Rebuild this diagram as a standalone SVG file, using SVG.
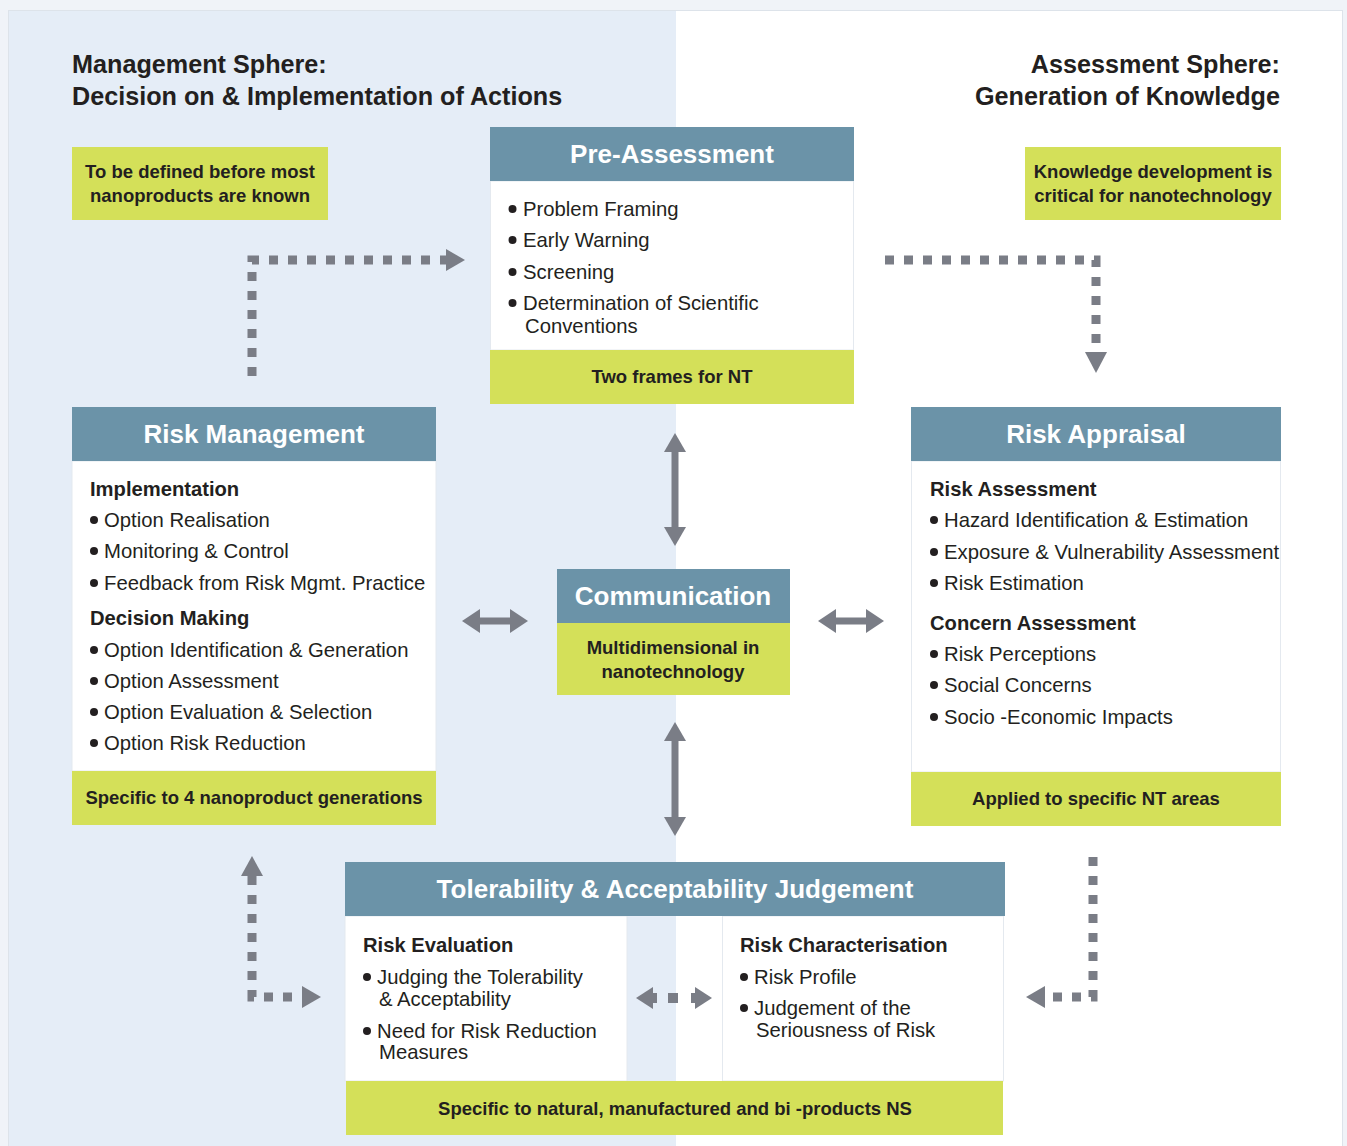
<svg xmlns="http://www.w3.org/2000/svg" width="1347" height="1146" viewBox="0 0 1347 1146">
<defs>
<style>
.hd{fill:#6b93a8}
.yl{fill:#d4e059}
.bd{fill:#ffffff;stroke:#e4e9ef;stroke-width:1}
.ht{font-family:"Liberation Sans",Arial,sans-serif;font-weight:bold;font-size:26px;fill:#ffffff;text-anchor:middle}
.yt{font-family:"Liberation Sans",Arial,sans-serif;font-weight:bold;font-size:18.5px;fill:#231f20;text-anchor:middle}
.tt{font-family:"Liberation Sans",Arial,sans-serif;font-weight:bold;font-size:25.2px;fill:#231f20}
.sub{font-family:"Liberation Sans",Arial,sans-serif;font-weight:bold;font-size:20.2px;fill:#231f20}
.it{font-family:"Liberation Sans",Arial,sans-serif;font-size:20.3px;fill:#231f20}
.dot{fill:#231f20}
.dl{fill:none;stroke:#7a7d86;stroke-width:9;stroke-dasharray:9 10}
.ar{fill:#7a7d86}
.sh{stroke:#7a7d86;stroke-width:7;fill:none}
</style>
</defs>
<rect x="0" y="0" width="1347" height="1146" fill="#f0f3f8"/>
<rect x="8.5" y="10.5" width="1334" height="1140" fill="#ffffff" stroke="#dde3ea"/>
<rect x="9" y="11" width="667" height="1135" fill="#e5edf7"/>

<g id="titles">
<text class="tt" x="72" y="73">Management Sphere:</text>
<text class="tt" x="72" y="105">Decision on &amp; Implementation of Actions</text>
<text class="tt" x="1280" y="73" text-anchor="end">Assessment Sphere:</text>
<text class="tt" x="1280" y="105" text-anchor="end">Generation of Knowledge</text>
</g>

<g id="note-left">
<rect class="yl" x="72" y="147" width="256" height="73"/>
<text class="yt" x="200" y="178">To be defined before most</text>
<text class="yt" x="200" y="202">nanoproducts are known</text>
</g>
<g id="note-right">
<rect class="yl" x="1025" y="147" width="256" height="73"/>
<text class="yt" x="1153" y="178">Knowledge development is</text>
<text class="yt" x="1153" y="202">critical for nanotechnology</text>
</g>

<g id="pre-assessment">
<rect class="bd" x="490.5" y="181" width="363" height="169"/>
<rect class="hd" x="490" y="127" width="364" height="54"/>
<text class="ht" x="672" y="163">Pre-Assessment</text>
<g class="it">
<circle class="dot" cx="512.5" cy="209" r="4"/><text x="523" y="216">Problem Framing</text>
<circle class="dot" cx="512.5" cy="240" r="4"/><text x="523" y="247">Early Warning</text>
<circle class="dot" cx="512.5" cy="272" r="4"/><text x="523" y="279">Screening</text>
<circle class="dot" cx="512.5" cy="303" r="4"/><text x="523" y="310">Determination of Scientific</text>
<text x="525" y="333">Conventions</text>
</g>
<rect class="yl" x="490" y="350" width="364" height="54"/>
<text class="yt" x="672" y="383">Two frames for NT</text>
</g>

<g id="risk-management">
<rect class="bd" x="72" y="461" width="364" height="310"/>
<rect class="hd" x="72" y="407" width="364" height="54"/>
<text class="ht" x="254" y="443">Risk Management</text>
<text class="sub" x="90" y="496">Implementation</text>
<g class="it">
<circle class="dot" cx="94" cy="520" r="4"/><text x="104" y="527">Option Realisation</text>
<circle class="dot" cx="94" cy="551" r="4"/><text x="104" y="558">Monitoring &amp; Control</text>
<circle class="dot" cx="94" cy="583" r="4"/><text x="104" y="590">Feedback from Risk Mgmt. Practice</text>
</g>
<text class="sub" x="90" y="625">Decision Making</text>
<g class="it">
<circle class="dot" cx="94" cy="650" r="4"/><text x="104" y="657">Option Identification &amp; Generation</text>
<circle class="dot" cx="94" cy="681" r="4"/><text x="104" y="688">Option Assessment</text>
<circle class="dot" cx="94" cy="712" r="4"/><text x="104" y="719">Option Evaluation &amp; Selection</text>
<circle class="dot" cx="94" cy="743" r="4"/><text x="104" y="750">Option Risk Reduction</text>
</g>
<rect class="yl" x="72" y="771" width="364" height="54"/>
<text class="yt" x="254" y="804">Specific to 4 nanoproduct generations</text>
</g>

<g id="risk-appraisal">
<rect class="bd" x="911.5" y="461" width="369" height="311"/>
<rect class="hd" x="911" y="407" width="370" height="54"/>
<text class="ht" x="1096" y="443">Risk Appraisal</text>
<text class="sub" x="930" y="496">Risk Assessment</text>
<g class="it">
<circle class="dot" cx="934" cy="520" r="4"/><text x="944" y="527">Hazard Identification &amp; Estimation</text>
<circle class="dot" cx="934" cy="552" r="4"/><text x="944" y="559">Exposure &amp; Vulnerability Assessment</text>
<circle class="dot" cx="934" cy="583" r="4"/><text x="944" y="590">Risk Estimation</text>
</g>
<text class="sub" x="930" y="630">Concern Assessment</text>
<g class="it">
<circle class="dot" cx="934" cy="654" r="4"/><text x="944" y="661">Risk Perceptions</text>
<circle class="dot" cx="934" cy="685" r="4"/><text x="944" y="692">Social Concerns</text>
<circle class="dot" cx="934" cy="717" r="4"/><text x="944" y="724">Socio -Economic Impacts</text>
</g>
<rect class="yl" x="911" y="772" width="370" height="54"/>
<text class="yt" x="1096" y="805">Applied to specific NT areas</text>
</g>

<g id="communication">
<rect class="hd" x="557" y="569" width="233" height="54"/>
<text class="ht" x="673" y="605">Communication</text>
<rect class="yl" x="557" y="623" width="233" height="72"/>
<text class="yt" x="673" y="654">Multidimensional in</text>
<text class="yt" x="673" y="678">nanotechnology</text>
</g>

<g id="tolerability">
<rect class="bd" x="345" y="916" width="282" height="165"/>
<rect class="bd" x="722.5" y="916" width="281" height="165"/>
<rect class="hd" x="345" y="862" width="660" height="54"/>
<text class="ht" x="675" y="898">Tolerability &amp; Acceptability Judgement</text>
<text class="sub" x="363" y="952">Risk Evaluation</text>
<g class="it">
<circle class="dot" cx="367" cy="977" r="4"/><text x="377" y="984">Judging the Tolerability</text>
<text x="379" y="1006">&amp; Acceptability</text>
<circle class="dot" cx="367" cy="1031" r="4"/><text x="377" y="1038">Need for Risk Reduction</text>
<text x="379" y="1059">Measures</text>
</g>
<text class="sub" x="740" y="952">Risk Characterisation</text>
<g class="it">
<circle class="dot" cx="744" cy="977" r="4"/><text x="754" y="984">Risk Profile</text>
<circle class="dot" cx="744" cy="1008" r="4"/><text x="754" y="1015">Judgement of the</text>
<text x="756" y="1037">Seriousness of Risk</text>
</g>
<rect class="yl" x="346" y="1081" width="657" height="54"/>
<text class="yt" x="675" y="1115">Specific to natural, manufactured and bi -products NS</text>
</g>

<g id="connectors">
<path class="dl" d="M252 376 V260 H446"/>
<polygon class="ar" points="446,249 465,260 446,271"/>
<path class="dl" d="M885 260 H1096 V352"/>
<polygon class="ar" points="1085,352 1107,352 1096,373"/>
<path class="dl" d="M252 876 V997 H302"/>
<polygon class="ar" points="241,876 263,876 252,856"/>
<polygon class="ar" points="302,986 321,997 302,1008"/>
<path class="dl" d="M1093 857 V997 H1045"/>
<polygon class="ar" points="1045,986 1026,997 1045,1008"/>
<polygon class="ar" points="653,987 636,998 653,1009"/>
<rect class="ar" x="668" y="993" width="10" height="10"/>
<polygon class="ar" points="695,987 712,998 695,1009"/>
<rect class="ar" x="653" y="993" width="4" height="10"/>
<rect class="ar" x="691" y="993" width="4" height="10"/>

<line class="sh" x1="675" y1="450" x2="675" y2="529"/>
<polygon class="ar" points="675,433 664,452 686,452"/>
<polygon class="ar" points="675,546 664,527 686,527"/>
<line class="sh" x1="675" y1="740" x2="675" y2="819"/>
<polygon class="ar" points="675,722 664,741 686,741"/>
<polygon class="ar" points="675,836 664,817 686,817"/>
<line class="sh" x1="478" y1="621" x2="512" y2="621"/>
<polygon class="ar" points="462,621 480,609 480,633"/>
<polygon class="ar" points="528,621 510,609 510,633"/>
<line class="sh" x1="834" y1="621" x2="868" y2="621"/>
<polygon class="ar" points="818,621 836,609 836,633"/>
<polygon class="ar" points="884,621 866,609 866,633"/>
</g>
</svg>
